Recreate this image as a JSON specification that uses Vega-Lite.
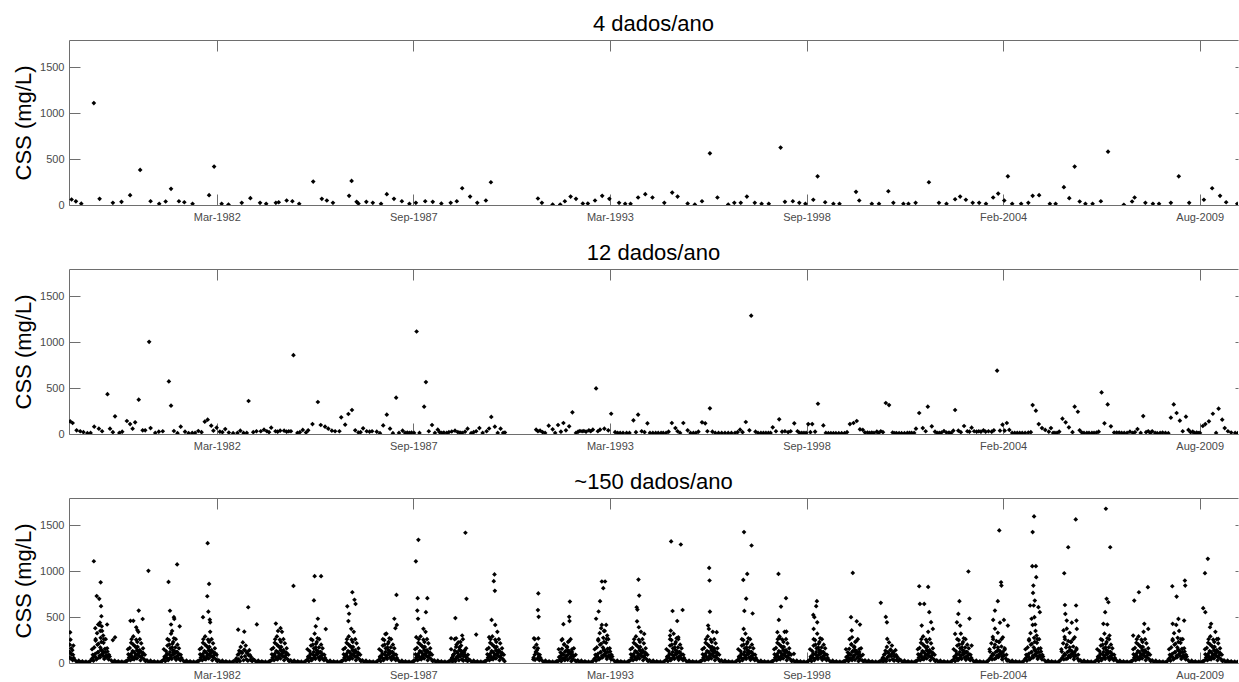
{
"$schema":"https://vega.github.io/schema/vega-lite/v6.json",
"padding":{"left":12,"top":12,"right":0,"bottom":0},
"spacing":19,
"config":{"font":"Liberation Sans","view":{"stroke":null},
"title":{"fontSize":22,"fontWeight":"normal","color":"#000","offset":4,"anchor":"middle","font":"Liberation Sans"},
"axis":{"grid":false,"domainColor":"#6e6e6e","tickColor":"#6e6e6e","labelColor":"#4a4a4a","labelFontSize":11,"labelFont":"Liberation Sans","titleFont":"Liberation Sans","titleFontSize":22,"titleFontWeight":"normal","titleColor":"#000","domainWidth":1,"tickWidth":1}},
"datasets":{
"q":[{"t":1978.2,"v":60},{"t":1978.32,"v":40},{"t":1978.47,"v":15},{"t":1978.82,"v":1112},{"t":1978.98,"v":67},{"t":1979.35,"v":24},{"t":1979.59,"v":35},{"t":1979.83,"v":107},{"t":1980.11,"v":383},{"t":1980.4,"v":41},{"t":1980.64,"v":13},{"t":1980.82,"v":38},{"t":1980.97,"v":176},{"t":1981.19,"v":41},{"t":1981.34,"v":30},{"t":1981.57,"v":13},{"t":1982.03,"v":107},{"t":1982.17,"v":419},{"t":1982.38,"v":13},{"t":1982.57,"v":5},{"t":1982.94,"v":24},{"t":1983.18,"v":74},{"t":1983.45,"v":24},{"t":1983.62,"v":13},{"t":1983.89,"v":24},{"t":1983.97,"v":30},{"t":1984.19,"v":49},{"t":1984.35,"v":41},{"t":1984.54,"v":13},{"t":1984.93,"v":256},{"t":1985.17,"v":67},{"t":1985.31,"v":49},{"t":1985.48,"v":24},{"t":1985.93,"v":100},{"t":1986,"v":263},{"t":1986.14,"v":35},{"t":1986.19,"v":16},{"t":1986.41,"v":35},{"t":1986.59,"v":24},{"t":1986.82,"v":13},{"t":1986.98,"v":118},{"t":1987.18,"v":67},{"t":1987.4,"v":41},{"t":1987.61,"v":13},{"t":1987.79,"v":24},{"t":1988.05,"v":41},{"t":1988.26,"v":35},{"t":1988.5,"v":16},{"t":1988.76,"v":24},{"t":1988.93,"v":41},{"t":1989.08,"v":183},{"t":1989.3,"v":92},{"t":1989.5,"v":24},{"t":1989.74,"v":49},{"t":1989.88,"v":248},{"t":1991.19,"v":71},{"t":1991.3,"v":24},{"t":1991.6,"v":5},{"t":1991.81,"v":5},{"t":1991.94,"v":41},{"t":1992.1,"v":92},{"t":1992.25,"v":67},{"t":1992.44,"v":16},{"t":1992.58,"v":16},{"t":1992.78,"v":49},{"t":1992.98,"v":100},{"t":1993.18,"v":67},{"t":1993.45,"v":24},{"t":1993.62,"v":13},{"t":1993.77,"v":13},{"t":1993.98,"v":82},{"t":1994.18,"v":118},{"t":1994.38,"v":82},{"t":1994.71,"v":24},{"t":1994.93,"v":136},{"t":1995.08,"v":92},{"t":1995.36,"v":16},{"t":1995.56,"v":5},{"t":1995.76,"v":41},{"t":1995.98,"v":564},{"t":1996.19,"v":82},{"t":1996.49,"v":5},{"t":1996.66,"v":24},{"t":1996.84,"v":24},{"t":1997.01,"v":92},{"t":1997.23,"v":24},{"t":1997.42,"v":13},{"t":1997.62,"v":13},{"t":1997.95,"v":626},{"t":1998.07,"v":35},{"t":1998.29,"v":41},{"t":1998.47,"v":24},{"t":1998.64,"v":13},{"t":1998.86,"v":57},{"t":1998.98,"v":313},{"t":1999.19,"v":30},{"t":1999.42,"v":13},{"t":1999.59,"v":13},{"t":2000.05,"v":144},{"t":2000.14,"v":49},{"t":2000.49,"v":13},{"t":2000.69,"v":13},{"t":2000.95,"v":150},{"t":2001.09,"v":24},{"t":2001.37,"v":13},{"t":2001.51,"v":13},{"t":2001.71,"v":24},{"t":2002.08,"v":248},{"t":2002.36,"v":24},{"t":2002.57,"v":13},{"t":2002.81,"v":63},{"t":2002.95,"v":92},{"t":2003.11,"v":57},{"t":2003.3,"v":24},{"t":2003.48,"v":24},{"t":2003.67,"v":13},{"t":2003.87,"v":82},{"t":2004.01,"v":125},{"t":2004.18,"v":49},{"t":2004.28,"v":313},{"t":2004.4,"v":13},{"t":2004.65,"v":13},{"t":2004.85,"v":24},{"t":2004.97,"v":100},{"t":2005.15,"v":107},{"t":2005.45,"v":13},{"t":2005.61,"v":13},{"t":2005.84,"v":194},{"t":2005.99,"v":74},{"t":2006.14,"v":419},{"t":2006.28,"v":38},{"t":2006.44,"v":13},{"t":2006.64,"v":13},{"t":2006.87,"v":41},{"t":2007.07,"v":582},{"t":2007.51,"v":2},{"t":2007.74,"v":38},{"t":2007.81,"v":82},{"t":2008.11,"v":24},{"t":2008.32,"v":13},{"t":2008.49,"v":13},{"t":2008.82,"v":24},{"t":2009.04,"v":313},{"t":2009.33,"v":24},{"t":2009.74,"v":57},{"t":2009.97,"v":183},{"t":2010.19,"v":100},{"t":2010.36,"v":30},{"t":2010.67,"v":13}],
"m":[{"t":1978.16,"v":138},{"t":1978.23,"v":120},{"t":1978.34,"v":40},{"t":1978.44,"v":30},{"t":1978.53,"v":20},{"t":1978.64,"v":9},{"t":1978.73,"v":12},{"t":1978.83,"v":80},{"t":1978.96,"v":58},{"t":1979.05,"v":30},{"t":1979.2,"v":435},{"t":1979.27,"v":58},{"t":1979.35,"v":20},{"t":1979.41,"v":193},{"t":1979.53,"v":12},{"t":1979.61,"v":25},{"t":1979.74,"v":142},{"t":1979.83,"v":108},{"t":1979.9,"v":58},{"t":1979.97,"v":127},{"t":1980.07,"v":374},{"t":1980.18,"v":40},{"t":1980.25,"v":40},{"t":1980.36,"v":1006},{"t":1980.4,"v":65},{"t":1980.53,"v":12},{"t":1980.63,"v":25},{"t":1980.74,"v":30},{"t":1980.91,"v":574},{"t":1980.97,"v":309},{"t":1981.05,"v":33},{"t":1981.15,"v":9},{"t":1981.24,"v":80},{"t":1981.36,"v":25},{"t":1981.46,"v":9},{"t":1981.56,"v":12},{"t":1981.64,"v":12},{"t":1981.73,"v":33},{"t":1981.82,"v":20},{"t":1981.91,"v":135},{"t":1981.99,"v":156},{"t":1982.09,"v":91},{"t":1982.15,"v":36},{"t":1982.24,"v":69},{"t":1982.33,"v":25},{"t":1982.4,"v":20},{"t":1982.48,"v":54},{"t":1982.58,"v":16},{"t":1982.7,"v":9},{"t":1982.82,"v":12},{"t":1982.9,"v":36},{"t":1982.99,"v":12},{"t":1983.08,"v":12},{"t":1983.13,"v":360},{"t":1983.26,"v":20},{"t":1983.35,"v":30},{"t":1983.47,"v":30},{"t":1983.56,"v":47},{"t":1983.64,"v":30},{"t":1983.7,"v":20},{"t":1983.76,"v":69},{"t":1983.88,"v":30},{"t":1983.94,"v":25},{"t":1984.01,"v":36},{"t":1984.12,"v":36},{"t":1984.19,"v":25},{"t":1984.25,"v":30},{"t":1984.31,"v":30},{"t":1984.38,"v":860},{"t":1984.49,"v":12},{"t":1984.56,"v":20},{"t":1984.64,"v":44},{"t":1984.73,"v":16},{"t":1984.79,"v":40},{"t":1984.91,"v":108},{"t":1985.06,"v":349},{"t":1985.14,"v":98},{"t":1985.26,"v":80},{"t":1985.35,"v":58},{"t":1985.45,"v":36},{"t":1985.54,"v":30},{"t":1985.66,"v":30},{"t":1985.71,"v":182},{"t":1985.82,"v":102},{"t":1985.91,"v":218},{"t":1986.01,"v":262},{"t":1986.1,"v":40},{"t":1986.19,"v":16},{"t":1986.25,"v":20},{"t":1986.32,"v":62},{"t":1986.42,"v":30},{"t":1986.5,"v":25},{"t":1986.57,"v":30},{"t":1986.7,"v":25},{"t":1986.79,"v":9},{"t":1986.88,"v":94},{"t":1986.98,"v":211},{"t":1987.07,"v":58},{"t":1987.15,"v":9},{"t":1987.24,"v":396},{"t":1987.32,"v":12},{"t":1987.42,"v":36},{"t":1987.49,"v":12},{"t":1987.55,"v":16},{"t":1987.61,"v":12},{"t":1987.67,"v":16},{"t":1987.74,"v":12},{"t":1987.81,"v":1118},{"t":1987.89,"v":12},{"t":1988.02,"v":298},{"t":1988.07,"v":566},{"t":1988.15,"v":30},{"t":1988.24,"v":98},{"t":1988.32,"v":12},{"t":1988.4,"v":47},{"t":1988.45,"v":20},{"t":1988.51,"v":12},{"t":1988.57,"v":16},{"t":1988.65,"v":12},{"t":1988.71,"v":20},{"t":1988.79,"v":27},{"t":1988.88,"v":36},{"t":1988.96,"v":20},{"t":1989.02,"v":16},{"t":1989.08,"v":12},{"t":1989.16,"v":25},{"t":1989.23,"v":58},{"t":1989.33,"v":9},{"t":1989.4,"v":20},{"t":1989.47,"v":30},{"t":1989.56,"v":65},{"t":1989.65,"v":12},{"t":1989.76,"v":30},{"t":1989.83,"v":60},{"t":1989.89,"v":186},{"t":1989.99,"v":80},{"t":1990.07,"v":12},{"t":1990.15,"v":58},{"t":1990.22,"v":12},{"t":1990.27,"v":16},{"t":1991.14,"v":47},{"t":1991.19,"v":30},{"t":1991.25,"v":36},{"t":1991.32,"v":20},{"t":1991.39,"v":12},{"t":1991.49,"v":91},{"t":1991.6,"v":51},{"t":1991.67,"v":12},{"t":1991.75,"v":98},{"t":1991.83,"v":25},{"t":1991.9,"v":120},{"t":1991.97,"v":40},{"t":1992.06,"v":84},{"t":1992.15,"v":236},{"t":1992.25,"v":12},{"t":1992.31,"v":25},{"t":1992.36,"v":33},{"t":1992.42,"v":30},{"t":1992.47,"v":33},{"t":1992.53,"v":25},{"t":1992.61,"v":40},{"t":1992.66,"v":30},{"t":1992.72,"v":47},{"t":1992.81,"v":497},{"t":1992.86,"v":30},{"t":1992.92,"v":47},{"t":1993.04,"v":58},{"t":1993.15,"v":40},{"t":1993.23,"v":221},{"t":1993.34,"v":20},{"t":1993.41,"v":12},{"t":1993.48,"v":12},{"t":1993.56,"v":12},{"t":1993.66,"v":12},{"t":1993.74,"v":12},{"t":1993.85,"v":149},{"t":1993.92,"v":20},{"t":1993.98,"v":211},{"t":1994.08,"v":30},{"t":1994.16,"v":20},{"t":1994.24,"v":116},{"t":1994.31,"v":12},{"t":1994.39,"v":12},{"t":1994.47,"v":12},{"t":1994.54,"v":12},{"t":1994.62,"v":12},{"t":1994.68,"v":12},{"t":1994.76,"v":12},{"t":1994.83,"v":25},{"t":1994.92,"v":120},{"t":1995.02,"v":65},{"t":1995.08,"v":30},{"t":1995.15,"v":12},{"t":1995.24,"v":120},{"t":1995.36,"v":40},{"t":1995.44,"v":12},{"t":1995.52,"v":12},{"t":1995.59,"v":12},{"t":1995.66,"v":25},{"t":1995.76,"v":127},{"t":1995.85,"v":116},{"t":1995.91,"v":30},{"t":1995.98,"v":280},{"t":1996.05,"v":25},{"t":1996.13,"v":12},{"t":1996.22,"v":12},{"t":1996.31,"v":12},{"t":1996.4,"v":12},{"t":1996.49,"v":12},{"t":1996.58,"v":12},{"t":1996.68,"v":12},{"t":1996.75,"v":20},{"t":1996.82,"v":47},{"t":1996.89,"v":20},{"t":1996.98,"v":131},{"t":1997.08,"v":40},{"t":1997.13,"v":1291},{"t":1997.25,"v":25},{"t":1997.32,"v":12},{"t":1997.4,"v":12},{"t":1997.47,"v":12},{"t":1997.54,"v":12},{"t":1997.61,"v":12},{"t":1997.67,"v":12},{"t":1997.73,"v":73},{"t":1997.82,"v":30},{"t":1997.91,"v":160},{"t":1997.99,"v":25},{"t":1998.07,"v":30},{"t":1998.16,"v":20},{"t":1998.23,"v":30},{"t":1998.33,"v":116},{"t":1998.42,"v":30},{"t":1998.48,"v":12},{"t":1998.54,"v":12},{"t":1998.6,"v":12},{"t":1998.66,"v":12},{"t":1998.72,"v":108},{"t":1998.78,"v":20},{"t":1998.83,"v":108},{"t":1998.91,"v":25},{"t":1998.99,"v":330},{"t":1999.14,"v":94},{"t":1999.21,"v":12},{"t":1999.28,"v":9},{"t":1999.35,"v":9},{"t":1999.42,"v":9},{"t":1999.49,"v":9},{"t":1999.57,"v":9},{"t":1999.65,"v":9},{"t":1999.73,"v":9},{"t":1999.8,"v":20},{"t":1999.88,"v":108},{"t":1999.98,"v":120},{"t":2000.07,"v":142},{"t":2000.16,"v":51},{"t":2000.24,"v":44},{"t":2000.3,"v":16},{"t":2000.37,"v":16},{"t":2000.43,"v":12},{"t":2000.49,"v":16},{"t":2000.55,"v":12},{"t":2000.63,"v":25},{"t":2000.68,"v":12},{"t":2000.74,"v":30},{"t":2000.8,"v":20},{"t":2000.88,"v":338},{"t":2000.97,"v":316},{"t":2001.07,"v":16},{"t":2001.13,"v":9},{"t":2001.18,"v":9},{"t":2001.25,"v":9},{"t":2001.32,"v":9},{"t":2001.4,"v":9},{"t":2001.48,"v":12},{"t":2001.54,"v":12},{"t":2001.6,"v":12},{"t":2001.67,"v":12},{"t":2001.72,"v":58},{"t":2001.81,"v":229},{"t":2001.91,"v":65},{"t":2001.99,"v":30},{"t":2002.05,"v":298},{"t":2002.16,"v":84},{"t":2002.25,"v":25},{"t":2002.31,"v":12},{"t":2002.37,"v":12},{"t":2002.43,"v":16},{"t":2002.5,"v":33},{"t":2002.57,"v":16},{"t":2002.64,"v":16},{"t":2002.7,"v":12},{"t":2002.76,"v":36},{"t":2002.81,"v":262},{"t":2002.9,"v":36},{"t":2002.97,"v":20},{"t":2003.06,"v":87},{"t":2003.15,"v":30},{"t":2003.21,"v":25},{"t":2003.27,"v":69},{"t":2003.34,"v":30},{"t":2003.41,"v":25},{"t":2003.47,"v":30},{"t":2003.53,"v":25},{"t":2003.6,"v":40},{"t":2003.66,"v":25},{"t":2003.74,"v":30},{"t":2003.83,"v":25},{"t":2003.89,"v":40},{"t":2003.98,"v":691},{"t":2004.06,"v":36},{"t":2004.13,"v":102},{"t":2004.19,"v":36},{"t":2004.25,"v":120},{"t":2004.32,"v":44},{"t":2004.4,"v":12},{"t":2004.47,"v":12},{"t":2004.54,"v":12},{"t":2004.61,"v":12},{"t":2004.68,"v":12},{"t":2004.76,"v":12},{"t":2004.85,"v":16},{"t":2004.92,"v":20},{"t":2004.97,"v":316},{"t":2005.06,"v":254},{"t":2005.14,"v":108},{"t":2005.23,"v":65},{"t":2005.32,"v":44},{"t":2005.42,"v":25},{"t":2005.48,"v":65},{"t":2005.54,"v":12},{"t":2005.59,"v":12},{"t":2005.65,"v":12},{"t":2005.71,"v":25},{"t":2005.8,"v":167},{"t":2005.89,"v":127},{"t":2005.98,"v":73},{"t":2006.08,"v":20},{"t":2006.14,"v":298},{"t":2006.23,"v":243},{"t":2006.28,"v":40},{"t":2006.34,"v":16},{"t":2006.4,"v":12},{"t":2006.48,"v":12},{"t":2006.54,"v":12},{"t":2006.62,"v":12},{"t":2006.68,"v":12},{"t":2006.75,"v":16},{"t":2006.81,"v":25},{"t":2006.89,"v":454},{"t":2006.97,"v":116},{"t":2007.06,"v":323},{"t":2007.15,"v":84},{"t":2007.24,"v":16},{"t":2007.31,"v":16},{"t":2007.38,"v":16},{"t":2007.45,"v":12},{"t":2007.52,"v":12},{"t":2007.6,"v":12},{"t":2007.68,"v":25},{"t":2007.76,"v":12},{"t":2007.82,"v":20},{"t":2007.89,"v":54},{"t":2007.98,"v":12},{"t":2008.05,"v":196},{"t":2008.13,"v":20},{"t":2008.19,"v":30},{"t":2008.25,"v":12},{"t":2008.3,"v":30},{"t":2008.38,"v":12},{"t":2008.44,"v":9},{"t":2008.52,"v":12},{"t":2008.59,"v":16},{"t":2008.67,"v":12},{"t":2008.75,"v":9},{"t":2008.82,"v":178},{"t":2008.9,"v":323},{"t":2008.98,"v":229},{"t":2009.07,"v":145},{"t":2009.15,"v":30},{"t":2009.24,"v":189},{"t":2009.31,"v":44},{"t":2009.37,"v":20},{"t":2009.43,"v":25},{"t":2009.48,"v":12},{"t":2009.54,"v":16},{"t":2009.59,"v":9},{"t":2009.63,"v":12},{"t":2009.71,"v":87},{"t":2009.78,"v":108},{"t":2009.88,"v":138},{"t":2009.99,"v":221},{"t":2010.08,"v":12},{"t":2010.15,"v":276},{"t":2010.25,"v":156},{"t":2010.32,"v":65},{"t":2010.41,"v":30},{"t":2010.5,"v":16},{"t":2010.61,"v":12},{"t":2010.68,"v":9}],
"d":[{"t":1978.13,"v":120},{"t":1978.14,"v":60},{"t":1978.15,"v":200},{"t":1978.16,"v":335},{"t":1978.17,"v":255},{"t":1978.18,"v":50},{"t":1978.19,"v":100},{"t":1978.2,"v":95},{"t":1978.22,"v":140},{"t":1978.23,"v":30},{"t":1978.25,"v":190},{"t":1978.26,"v":55},
{"t":1978.3,"v":30},{"t":1978.35,"v":10},{"t":1978.4,"v":25},{"t":1978.45,"v":8},{"t":1978.5,"v":18},{"t":1978.55,"v":6},{"t":1978.6,"v":15},{"t":1978.65,"v":5},{"t":1978.69,"v":12},{"t":1978.72,"v":22},
{"t":1978.76,"v":45},{"t":1978.79,"v":90},{"t":1978.81,"v":25},{"t":1978.83,"v":170},{"t":1978.85,"v":70},{"t":1978.87,"v":245},{"t":1978.89,"v":40},{"t":1978.91,"v":325},{"t":1978.93,"v":115},{"t":1978.95,"v":210},{"t":1978.97,"v":415},{"t":1978.99,"v":60},{"t":1979.01,"v":275},{"t":1979.03,"v":145},{"t":1979.05,"v":350},{"t":1979.07,"v":80},{"t":1979.09,"v":220},{"t":1979.11,"v":45},{"t":1979.13,"v":155},{"t":1979.15,"v":260},{"t":1979.18,"v":65},{"t":1979.2,"v":125},{"t":1979.23,"v":40},{"t":1979.26,"v":70},
{"t":1978.8,"v":60},{"t":1978.86,"v":100},{"t":1978.9,"v":45},{"t":1978.94,"v":120},{"t":1978.98,"v":80},{"t":1979.02,"v":140},{"t":1979.04,"v":95},{"t":1979.08,"v":110},{"t":1979.12,"v":70},{"t":1979.17,"v":85},
{"t":1978.82,"v":1110},{"t":1978.9,"v":730},{"t":1978.97,"v":700},{"t":1979.01,"v":880},{"t":1979.02,"v":620},{"t":1979.03,"v":510},{"t":1978.99,"v":440},{"t":1979.19,"v":420},{"t":1979.35,"v":250},{"t":1979.41,"v":280},{"t":1978.86,"v":380},{"t":1978.94,"v":420},{"t":1979,"v":350},{"t":1979.04,"v":400},{"t":1979.08,"v":300},
{"t":1979.3,"v":30},{"t":1979.35,"v":10},{"t":1979.4,"v":25},{"t":1979.45,"v":8},{"t":1979.5,"v":18},{"t":1979.55,"v":6},{"t":1979.6,"v":15},{"t":1979.65,"v":5},{"t":1979.69,"v":12},{"t":1979.72,"v":22},
{"t":1979.75,"v":25},{"t":1979.78,"v":95},{"t":1979.8,"v":40},{"t":1979.82,"v":165},{"t":1979.84,"v":30},{"t":1979.86,"v":220},{"t":1979.88,"v":70},{"t":1979.9,"v":130},{"t":1979.92,"v":290},{"t":1979.94,"v":40},{"t":1979.96,"v":185},{"t":1979.98,"v":100},{"t":1980,"v":255},{"t":1980.02,"v":50},{"t":1980.04,"v":175},{"t":1980.06,"v":340},{"t":1980.08,"v":75},{"t":1980.1,"v":140},{"t":1980.12,"v":30},{"t":1980.14,"v":215},{"t":1980.16,"v":60},{"t":1980.19,"v":110},{"t":1980.22,"v":40},{"t":1980.26,"v":20},
{"t":1979.8,"v":60},{"t":1979.86,"v":100},{"t":1979.9,"v":45},{"t":1979.94,"v":120},{"t":1979.98,"v":80},{"t":1980.02,"v":140},{"t":1980.04,"v":95},{"t":1980.08,"v":110},{"t":1980.12,"v":70},{"t":1980.17,"v":85},
{"t":1979.84,"v":460},{"t":1979.92,"v":460},{"t":1980.07,"v":572},{"t":1980.18,"v":480},{"t":1980.34,"v":1006},{"t":1980,"v":390},{"t":1980.03,"v":360},
{"t":1980.3,"v":30},{"t":1980.35,"v":10},{"t":1980.4,"v":25},{"t":1980.45,"v":8},{"t":1980.5,"v":18},{"t":1980.55,"v":6},{"t":1980.6,"v":15},{"t":1980.65,"v":5},{"t":1980.69,"v":12},{"t":1980.72,"v":22},
{"t":1980.76,"v":35},{"t":1980.79,"v":70},{"t":1980.81,"v":20},{"t":1980.83,"v":130},{"t":1980.85,"v":55},{"t":1980.87,"v":190},{"t":1980.89,"v":30},{"t":1980.91,"v":250},{"t":1980.93,"v":90},{"t":1980.95,"v":160},{"t":1980.97,"v":320},{"t":1980.99,"v":45},{"t":1981.01,"v":210},{"t":1981.03,"v":110},{"t":1981.05,"v":270},{"t":1981.07,"v":60},{"t":1981.09,"v":170},{"t":1981.11,"v":35},{"t":1981.13,"v":120},{"t":1981.15,"v":200},{"t":1981.18,"v":50},{"t":1981.2,"v":95},{"t":1981.23,"v":30},{"t":1981.26,"v":55},
{"t":1980.8,"v":60},{"t":1980.86,"v":100},{"t":1980.9,"v":45},{"t":1980.94,"v":120},{"t":1980.98,"v":80},{"t":1981.02,"v":140},{"t":1981.04,"v":95},{"t":1981.08,"v":110},{"t":1981.12,"v":70},{"t":1981.17,"v":85},
{"t":1980.9,"v":885},{"t":1980.94,"v":570},{"t":1981.05,"v":500},{"t":1981.06,"v":480},{"t":1981.14,"v":1075},{"t":1981.21,"v":400},{"t":1980.97,"v":420},{"t":1981,"v":350},
{"t":1981.3,"v":30},{"t":1981.35,"v":10},{"t":1981.4,"v":25},{"t":1981.45,"v":8},{"t":1981.5,"v":18},{"t":1981.55,"v":6},{"t":1981.6,"v":15},{"t":1981.65,"v":5},{"t":1981.69,"v":12},{"t":1981.72,"v":22},
{"t":1981.75,"v":25},{"t":1981.78,"v":95},{"t":1981.8,"v":40},{"t":1981.82,"v":165},{"t":1981.84,"v":30},{"t":1981.86,"v":220},{"t":1981.88,"v":70},{"t":1981.9,"v":130},{"t":1981.92,"v":290},{"t":1981.94,"v":40},{"t":1981.96,"v":185},{"t":1981.98,"v":100},{"t":1982,"v":255},{"t":1982.02,"v":50},{"t":1982.04,"v":175},{"t":1982.06,"v":340},{"t":1982.08,"v":75},{"t":1982.1,"v":140},{"t":1982.12,"v":30},{"t":1982.14,"v":215},{"t":1982.16,"v":60},{"t":1982.19,"v":110},{"t":1982.22,"v":40},{"t":1982.26,"v":20},
{"t":1981.8,"v":60},{"t":1981.86,"v":100},{"t":1981.9,"v":45},{"t":1981.94,"v":120},{"t":1981.98,"v":80},{"t":1982.02,"v":140},{"t":1982.04,"v":95},{"t":1982.08,"v":110},{"t":1982.12,"v":70},{"t":1982.17,"v":85},
{"t":1981.86,"v":500},{"t":1981.99,"v":1307},{"t":1981.98,"v":728},{"t":1982.03,"v":863},{"t":1982.05,"v":473},{"t":1982.06,"v":444},{"t":1982.04,"v":244},{"t":1982.01,"v":560},
{"t":1982.3,"v":30},{"t":1982.35,"v":10},{"t":1982.4,"v":25},{"t":1982.45,"v":8},{"t":1982.5,"v":18},{"t":1982.55,"v":6},{"t":1982.6,"v":15},{"t":1982.65,"v":5},{"t":1982.69,"v":12},{"t":1982.72,"v":22},
{"t":1982.76,"v":25},{"t":1982.79,"v":50},{"t":1982.81,"v":15},{"t":1982.83,"v":90},{"t":1982.85,"v":40},{"t":1982.87,"v":135},{"t":1982.89,"v":20},{"t":1982.91,"v":175},{"t":1982.93,"v":65},{"t":1982.95,"v":110},{"t":1982.97,"v":225},{"t":1982.99,"v":30},{"t":1983.01,"v":145},{"t":1983.03,"v":75},{"t":1983.05,"v":190},{"t":1983.07,"v":40},{"t":1983.09,"v":120},{"t":1983.11,"v":25},{"t":1983.13,"v":85},{"t":1983.15,"v":140},{"t":1983.18,"v":35},{"t":1983.2,"v":65},{"t":1983.23,"v":20},{"t":1983.26,"v":40},
{"t":1982.86,"v":100},{"t":1982.94,"v":120},{"t":1983.02,"v":140},{"t":1983.08,"v":110},{"t":1983.17,"v":85},
{"t":1982.84,"v":364},{"t":1983.01,"v":342},{"t":1983.12,"v":608},{"t":1983.36,"v":421},
{"t":1983.3,"v":30},{"t":1983.35,"v":10},{"t":1983.4,"v":25},{"t":1983.45,"v":8},{"t":1983.5,"v":18},{"t":1983.55,"v":6},{"t":1983.6,"v":15},{"t":1983.65,"v":5},{"t":1983.69,"v":12},{"t":1983.72,"v":22},
{"t":1983.75,"v":25},{"t":1983.78,"v":95},{"t":1983.8,"v":40},{"t":1983.82,"v":165},{"t":1983.84,"v":30},{"t":1983.86,"v":220},{"t":1983.88,"v":70},{"t":1983.9,"v":130},{"t":1983.92,"v":290},{"t":1983.94,"v":40},{"t":1983.96,"v":185},{"t":1983.98,"v":100},{"t":1984,"v":255},{"t":1984.02,"v":50},{"t":1984.04,"v":175},{"t":1984.06,"v":340},{"t":1984.08,"v":75},{"t":1984.1,"v":140},{"t":1984.12,"v":30},{"t":1984.14,"v":215},{"t":1984.16,"v":60},{"t":1984.19,"v":110},{"t":1984.22,"v":40},{"t":1984.26,"v":20},
{"t":1983.8,"v":60},{"t":1983.86,"v":100},{"t":1983.9,"v":45},{"t":1983.94,"v":120},{"t":1983.98,"v":80},{"t":1984.02,"v":140},{"t":1984.04,"v":95},{"t":1984.08,"v":110},{"t":1984.12,"v":70},{"t":1984.17,"v":85},
{"t":1983.89,"v":430},{"t":1984.38,"v":841},{"t":1983.95,"v":350},{"t":1984.02,"v":380},
{"t":1984.3,"v":30},{"t":1984.35,"v":10},{"t":1984.4,"v":25},{"t":1984.45,"v":8},{"t":1984.5,"v":18},{"t":1984.55,"v":6},{"t":1984.6,"v":15},{"t":1984.65,"v":5},{"t":1984.69,"v":12},{"t":1984.72,"v":22},
{"t":1984.76,"v":35},{"t":1984.79,"v":70},{"t":1984.81,"v":20},{"t":1984.83,"v":130},{"t":1984.85,"v":55},{"t":1984.87,"v":190},{"t":1984.89,"v":30},{"t":1984.91,"v":250},{"t":1984.93,"v":90},{"t":1984.95,"v":160},{"t":1984.97,"v":320},{"t":1984.99,"v":45},{"t":1985.01,"v":210},{"t":1985.03,"v":110},{"t":1985.05,"v":270},{"t":1985.07,"v":60},{"t":1985.09,"v":170},{"t":1985.11,"v":35},{"t":1985.13,"v":120},{"t":1985.15,"v":200},{"t":1985.18,"v":50},{"t":1985.2,"v":95},{"t":1985.23,"v":30},{"t":1985.26,"v":55},
{"t":1984.8,"v":60},{"t":1984.86,"v":100},{"t":1984.9,"v":45},{"t":1984.94,"v":120},{"t":1984.98,"v":80},{"t":1985.02,"v":140},{"t":1985.04,"v":95},{"t":1985.08,"v":110},{"t":1985.12,"v":70},{"t":1985.17,"v":85},
{"t":1984.95,"v":683},{"t":1984.97,"v":947},{"t":1985.06,"v":483},{"t":1985.15,"v":947},{"t":1985.28,"v":370},{"t":1985,"v":400},
{"t":1985.3,"v":30},{"t":1985.35,"v":10},{"t":1985.4,"v":25},{"t":1985.45,"v":8},{"t":1985.5,"v":18},{"t":1985.55,"v":6},{"t":1985.6,"v":15},{"t":1985.65,"v":5},{"t":1985.69,"v":12},{"t":1985.72,"v":22},
{"t":1985.75,"v":25},{"t":1985.78,"v":95},{"t":1985.8,"v":40},{"t":1985.82,"v":165},{"t":1985.84,"v":30},{"t":1985.86,"v":220},{"t":1985.88,"v":70},{"t":1985.9,"v":130},{"t":1985.92,"v":290},{"t":1985.94,"v":40},{"t":1985.96,"v":185},{"t":1985.98,"v":100},{"t":1986,"v":255},{"t":1986.02,"v":50},{"t":1986.04,"v":175},{"t":1986.06,"v":340},{"t":1986.08,"v":75},{"t":1986.1,"v":140},{"t":1986.12,"v":30},{"t":1986.14,"v":215},{"t":1986.16,"v":60},{"t":1986.19,"v":110},{"t":1986.22,"v":40},{"t":1986.26,"v":20},
{"t":1985.8,"v":60},{"t":1985.86,"v":100},{"t":1985.9,"v":45},{"t":1985.94,"v":120},{"t":1985.98,"v":80},{"t":1986.02,"v":140},{"t":1986.04,"v":95},{"t":1986.08,"v":110},{"t":1986.12,"v":70},{"t":1986.17,"v":85},
{"t":1985.88,"v":618},{"t":1985.91,"v":457},{"t":1985.93,"v":537},{"t":1985.99,"v":373},{"t":1986.02,"v":772},{"t":1986.08,"v":690},{"t":1986.11,"v":645},
{"t":1986.3,"v":30},{"t":1986.35,"v":10},{"t":1986.4,"v":25},{"t":1986.45,"v":8},{"t":1986.5,"v":18},{"t":1986.55,"v":6},{"t":1986.6,"v":15},{"t":1986.65,"v":5},{"t":1986.69,"v":12},{"t":1986.72,"v":22},
{"t":1986.76,"v":35},{"t":1986.79,"v":70},{"t":1986.81,"v":20},{"t":1986.83,"v":130},{"t":1986.85,"v":55},{"t":1986.87,"v":190},{"t":1986.89,"v":30},{"t":1986.91,"v":250},{"t":1986.93,"v":90},{"t":1986.95,"v":160},{"t":1986.97,"v":320},{"t":1986.99,"v":45},{"t":1987.01,"v":210},{"t":1987.03,"v":110},{"t":1987.05,"v":270},{"t":1987.07,"v":60},{"t":1987.09,"v":170},{"t":1987.11,"v":35},{"t":1987.13,"v":120},{"t":1987.15,"v":200},{"t":1987.18,"v":50},{"t":1987.2,"v":95},{"t":1987.23,"v":30},{"t":1987.26,"v":55},
{"t":1986.8,"v":60},{"t":1986.86,"v":100},{"t":1986.9,"v":45},{"t":1986.94,"v":120},{"t":1986.98,"v":80},{"t":1987.02,"v":140},{"t":1987.04,"v":95},{"t":1987.08,"v":110},{"t":1987.12,"v":70},{"t":1987.17,"v":85},
{"t":1986.94,"v":316},{"t":1987.19,"v":483},{"t":1987.25,"v":743},{"t":1987.26,"v":415},{"t":1987.22,"v":380},
{"t":1987.3,"v":30},{"t":1987.35,"v":10},{"t":1987.4,"v":25},{"t":1987.45,"v":8},{"t":1987.5,"v":18},{"t":1987.55,"v":6},{"t":1987.6,"v":15},{"t":1987.65,"v":5},{"t":1987.69,"v":12},{"t":1987.72,"v":22},
{"t":1987.75,"v":25},{"t":1987.78,"v":95},{"t":1987.8,"v":40},{"t":1987.82,"v":165},{"t":1987.84,"v":30},{"t":1987.86,"v":220},{"t":1987.88,"v":70},{"t":1987.9,"v":130},{"t":1987.92,"v":290},{"t":1987.94,"v":40},{"t":1987.96,"v":185},{"t":1987.98,"v":100},{"t":1988,"v":255},{"t":1988.02,"v":50},{"t":1988.04,"v":175},{"t":1988.06,"v":340},{"t":1988.08,"v":75},{"t":1988.1,"v":140},{"t":1988.12,"v":30},{"t":1988.14,"v":215},{"t":1988.16,"v":60},{"t":1988.19,"v":110},{"t":1988.22,"v":40},{"t":1988.26,"v":20},
{"t":1987.8,"v":60},{"t":1987.86,"v":100},{"t":1987.9,"v":45},{"t":1987.94,"v":120},{"t":1987.98,"v":80},{"t":1988.02,"v":140},{"t":1988.04,"v":95},{"t":1988.08,"v":110},{"t":1988.12,"v":70},{"t":1988.17,"v":85},
{"t":1987.79,"v":1109},{"t":1987.8,"v":282},{"t":1987.83,"v":572},{"t":1987.84,"v":707},{"t":1987.85,"v":483},{"t":1987.86,"v":1344},{"t":1988,"v":373},{"t":1988.07,"v":555},{"t":1988.11,"v":707},
{"t":1988.3,"v":30},{"t":1988.35,"v":10},{"t":1988.4,"v":25},{"t":1988.45,"v":8},{"t":1988.5,"v":18},{"t":1988.55,"v":6},{"t":1988.6,"v":15},{"t":1988.65,"v":5},{"t":1988.69,"v":12},{"t":1988.72,"v":22},
{"t":1988.76,"v":25},{"t":1988.79,"v":50},{"t":1988.81,"v":15},{"t":1988.83,"v":90},{"t":1988.85,"v":40},{"t":1988.87,"v":135},{"t":1988.89,"v":20},{"t":1988.91,"v":175},{"t":1988.93,"v":65},{"t":1988.95,"v":110},{"t":1988.97,"v":225},{"t":1988.99,"v":30},{"t":1989.01,"v":145},{"t":1989.03,"v":75},{"t":1989.05,"v":190},{"t":1989.07,"v":40},{"t":1989.09,"v":120},{"t":1989.11,"v":25},{"t":1989.13,"v":85},{"t":1989.15,"v":140},{"t":1989.18,"v":35},{"t":1989.2,"v":65},{"t":1989.23,"v":20},{"t":1989.26,"v":40},
{"t":1988.8,"v":60},{"t":1988.86,"v":100},{"t":1988.9,"v":45},{"t":1988.94,"v":120},{"t":1988.98,"v":80},{"t":1989.02,"v":140},{"t":1989.04,"v":95},{"t":1989.08,"v":110},{"t":1989.12,"v":70},{"t":1989.17,"v":85},
{"t":1988.77,"v":270},{"t":1988.89,"v":490},{"t":1988.91,"v":270},{"t":1989.08,"v":300},{"t":1989.17,"v":1421},{"t":1989.2,"v":700},{"t":1989.47,"v":310},
{"t":1989.3,"v":30},{"t":1989.35,"v":10},{"t":1989.4,"v":25},{"t":1989.45,"v":8},{"t":1989.5,"v":18},{"t":1989.55,"v":6},{"t":1989.6,"v":15},{"t":1989.65,"v":5},{"t":1989.69,"v":12},{"t":1989.72,"v":22},
{"t":1989.75,"v":25},{"t":1989.78,"v":95},{"t":1989.8,"v":40},{"t":1989.82,"v":165},{"t":1989.84,"v":30},{"t":1989.86,"v":220},{"t":1989.88,"v":70},{"t":1989.9,"v":130},{"t":1989.92,"v":290},{"t":1989.94,"v":40},{"t":1989.96,"v":185},{"t":1989.98,"v":100},{"t":1990,"v":255},{"t":1990.02,"v":50},{"t":1990.04,"v":175},{"t":1990.06,"v":340},{"t":1990.08,"v":75},{"t":1990.1,"v":140},{"t":1990.12,"v":30},{"t":1990.14,"v":215},{"t":1990.16,"v":60},{"t":1990.19,"v":110},{"t":1990.22,"v":40},{"t":1990.26,"v":20},
{"t":1989.8,"v":60},{"t":1989.86,"v":100},{"t":1989.9,"v":45},{"t":1989.94,"v":120},{"t":1989.98,"v":80},{"t":1990.02,"v":140},{"t":1990.04,"v":95},{"t":1990.08,"v":110},{"t":1990.12,"v":70},{"t":1990.17,"v":85},
{"t":1989.83,"v":282},{"t":1989.9,"v":470},{"t":1989.96,"v":893},{"t":1989.98,"v":966},{"t":1989.99,"v":787},{"t":1990,"v":415},
{"t":1991.06,"v":40},{"t":1991.07,"v":60},{"t":1991.08,"v":270},{"t":1991.09,"v":170},{"t":1991.1,"v":90},{"t":1991.11,"v":35},{"t":1991.13,"v":120},{"t":1991.15,"v":200},{"t":1991.16,"v":140},{"t":1991.18,"v":50},{"t":1991.2,"v":95},{"t":1991.22,"v":70},{"t":1991.23,"v":30},{"t":1991.26,"v":55},
{"t":1991.2,"v":759},{"t":1991.19,"v":577},{"t":1991.21,"v":504},{"t":1991.2,"v":268},
{"t":1991.3,"v":30},{"t":1991.35,"v":10},{"t":1991.4,"v":25},{"t":1991.45,"v":8},{"t":1991.5,"v":18},{"t":1991.55,"v":6},{"t":1991.6,"v":15},{"t":1991.65,"v":5},{"t":1991.69,"v":12},{"t":1991.72,"v":22},
{"t":1991.75,"v":20},{"t":1991.78,"v":65},{"t":1991.8,"v":30},{"t":1991.82,"v":115},{"t":1991.84,"v":20},{"t":1991.86,"v":155},{"t":1991.88,"v":50},{"t":1991.9,"v":90},{"t":1991.92,"v":205},{"t":1991.94,"v":30},{"t":1991.96,"v":130},{"t":1991.98,"v":70},{"t":1992,"v":180},{"t":1992.02,"v":35},{"t":1992.04,"v":120},{"t":1992.06,"v":240},{"t":1992.08,"v":55},{"t":1992.1,"v":100},{"t":1992.12,"v":20},{"t":1992.14,"v":150},{"t":1992.16,"v":40},{"t":1992.19,"v":75},{"t":1992.22,"v":30},{"t":1992.26,"v":15},
{"t":1991.8,"v":60},{"t":1991.86,"v":100},{"t":1991.9,"v":45},{"t":1991.94,"v":120},{"t":1991.98,"v":80},{"t":1992.02,"v":140},{"t":1992.04,"v":95},{"t":1992.08,"v":110},{"t":1992.12,"v":70},{"t":1992.17,"v":85},
{"t":1991.9,"v":424},{"t":1991.85,"v":250},{"t":1992.06,"v":504},{"t":1992.07,"v":457},{"t":1992.08,"v":670},
{"t":1992.3,"v":30},{"t":1992.35,"v":10},{"t":1992.4,"v":25},{"t":1992.45,"v":8},{"t":1992.5,"v":18},{"t":1992.55,"v":6},{"t":1992.6,"v":15},{"t":1992.65,"v":5},{"t":1992.69,"v":12},{"t":1992.72,"v":22},
{"t":1992.76,"v":45},{"t":1992.79,"v":90},{"t":1992.81,"v":25},{"t":1992.83,"v":170},{"t":1992.85,"v":70},{"t":1992.87,"v":245},{"t":1992.89,"v":40},{"t":1992.91,"v":325},{"t":1992.93,"v":115},{"t":1992.95,"v":210},{"t":1992.97,"v":415},{"t":1992.99,"v":60},{"t":1993.01,"v":275},{"t":1993.03,"v":145},{"t":1993.05,"v":350},{"t":1993.07,"v":80},{"t":1993.09,"v":220},{"t":1993.11,"v":45},{"t":1993.13,"v":155},{"t":1993.15,"v":260},{"t":1993.18,"v":65},{"t":1993.2,"v":125},{"t":1993.23,"v":40},{"t":1993.26,"v":70},
{"t":1992.8,"v":60},{"t":1992.86,"v":100},{"t":1992.9,"v":45},{"t":1992.94,"v":120},{"t":1992.98,"v":80},{"t":1993.02,"v":140},{"t":1993.04,"v":95},{"t":1993.08,"v":110},{"t":1993.12,"v":70},{"t":1993.17,"v":85},
{"t":1992.81,"v":483},{"t":1992.88,"v":562},{"t":1992.92,"v":674},{"t":1992.97,"v":889},{"t":1993.01,"v":816},{"t":1993.06,"v":889},{"t":1993.09,"v":415},{"t":1992.95,"v":380},{"t":1993.03,"v":350},{"t":1993.12,"v":300},
{"t":1993.3,"v":30},{"t":1993.35,"v":10},{"t":1993.4,"v":25},{"t":1993.45,"v":8},{"t":1993.5,"v":18},{"t":1993.55,"v":6},{"t":1993.6,"v":15},{"t":1993.65,"v":5},{"t":1993.69,"v":12},{"t":1993.72,"v":22},
{"t":1993.75,"v":25},{"t":1993.78,"v":95},{"t":1993.8,"v":40},{"t":1993.82,"v":165},{"t":1993.84,"v":30},{"t":1993.86,"v":220},{"t":1993.88,"v":70},{"t":1993.9,"v":130},{"t":1993.92,"v":290},{"t":1993.94,"v":40},{"t":1993.96,"v":185},{"t":1993.98,"v":100},{"t":1994,"v":255},{"t":1994.02,"v":50},{"t":1994.04,"v":175},{"t":1994.06,"v":340},{"t":1994.08,"v":75},{"t":1994.1,"v":140},{"t":1994.12,"v":30},{"t":1994.14,"v":215},{"t":1994.16,"v":60},{"t":1994.19,"v":110},{"t":1994.22,"v":40},{"t":1994.26,"v":20},
{"t":1993.8,"v":60},{"t":1993.86,"v":100},{"t":1993.9,"v":45},{"t":1993.94,"v":120},{"t":1993.98,"v":80},{"t":1994.02,"v":140},{"t":1994.04,"v":95},{"t":1994.08,"v":110},{"t":1994.12,"v":70},{"t":1994.17,"v":85},
{"t":1993.94,"v":608},{"t":1993.95,"v":455},{"t":1993.96,"v":583},{"t":1993.99,"v":910},{"t":1994,"v":390},{"t":1994.01,"v":736},{"t":1994.15,"v":317},
{"t":1994.3,"v":30},{"t":1994.35,"v":10},{"t":1994.4,"v":25},{"t":1994.45,"v":8},{"t":1994.5,"v":18},{"t":1994.55,"v":6},{"t":1994.6,"v":15},{"t":1994.65,"v":5},{"t":1994.69,"v":12},{"t":1994.72,"v":22},
{"t":1994.76,"v":35},{"t":1994.79,"v":70},{"t":1994.81,"v":20},{"t":1994.83,"v":130},{"t":1994.85,"v":55},{"t":1994.87,"v":190},{"t":1994.89,"v":30},{"t":1994.91,"v":250},{"t":1994.93,"v":90},{"t":1994.95,"v":160},{"t":1994.97,"v":320},{"t":1994.99,"v":45},{"t":1995.01,"v":210},{"t":1995.03,"v":110},{"t":1995.05,"v":270},{"t":1995.07,"v":60},{"t":1995.09,"v":170},{"t":1995.11,"v":35},{"t":1995.13,"v":120},{"t":1995.15,"v":200},{"t":1995.18,"v":50},{"t":1995.2,"v":95},{"t":1995.23,"v":30},{"t":1995.26,"v":55},
{"t":1994.8,"v":60},{"t":1994.86,"v":100},{"t":1994.9,"v":45},{"t":1994.94,"v":120},{"t":1994.98,"v":80},{"t":1995.02,"v":140},{"t":1995.04,"v":95},{"t":1995.08,"v":110},{"t":1995.12,"v":70},{"t":1995.17,"v":85},
{"t":1994.87,"v":299},{"t":1994.89,"v":353},{"t":1994.9,"v":1326},{"t":1994.94,"v":567},{"t":1995.07,"v":458},{"t":1995.1,"v":281},{"t":1995.17,"v":1293},{"t":1995.22,"v":578},
{"t":1995.3,"v":30},{"t":1995.35,"v":10},{"t":1995.4,"v":25},{"t":1995.45,"v":8},{"t":1995.5,"v":18},{"t":1995.55,"v":6},{"t":1995.6,"v":15},{"t":1995.65,"v":5},{"t":1995.69,"v":12},{"t":1995.72,"v":22},
{"t":1995.75,"v":25},{"t":1995.78,"v":95},{"t":1995.8,"v":40},{"t":1995.82,"v":165},{"t":1995.84,"v":30},{"t":1995.86,"v":220},{"t":1995.88,"v":70},{"t":1995.9,"v":130},{"t":1995.92,"v":290},{"t":1995.94,"v":40},{"t":1995.96,"v":185},{"t":1995.98,"v":100},{"t":1996,"v":255},{"t":1996.02,"v":50},{"t":1996.04,"v":175},{"t":1996.06,"v":340},{"t":1996.08,"v":75},{"t":1996.1,"v":140},{"t":1996.12,"v":30},{"t":1996.14,"v":215},{"t":1996.16,"v":60},{"t":1996.19,"v":110},{"t":1996.22,"v":40},{"t":1996.26,"v":20},
{"t":1995.8,"v":60},{"t":1995.86,"v":100},{"t":1995.9,"v":45},{"t":1995.94,"v":120},{"t":1995.98,"v":80},{"t":1996.02,"v":140},{"t":1996.04,"v":95},{"t":1996.08,"v":110},{"t":1996.12,"v":70},{"t":1996.17,"v":85},
{"t":1995.93,"v":408},{"t":1995.96,"v":1037},{"t":1995.97,"v":900},{"t":1995.95,"v":372},{"t":1995.98,"v":560},{"t":1996.1,"v":160},{"t":1996.17,"v":336},
{"t":1996.3,"v":30},{"t":1996.35,"v":10},{"t":1996.4,"v":25},{"t":1996.45,"v":8},{"t":1996.5,"v":18},{"t":1996.55,"v":6},{"t":1996.6,"v":15},{"t":1996.65,"v":5},{"t":1996.69,"v":12},{"t":1996.72,"v":22},
{"t":1996.76,"v":35},{"t":1996.79,"v":70},{"t":1996.81,"v":20},{"t":1996.83,"v":130},{"t":1996.85,"v":55},{"t":1996.87,"v":190},{"t":1996.89,"v":30},{"t":1996.91,"v":250},{"t":1996.93,"v":90},{"t":1996.95,"v":160},{"t":1996.97,"v":320},{"t":1996.99,"v":45},{"t":1997.01,"v":210},{"t":1997.03,"v":110},{"t":1997.05,"v":270},{"t":1997.07,"v":60},{"t":1997.09,"v":170},{"t":1997.11,"v":35},{"t":1997.13,"v":120},{"t":1997.15,"v":200},{"t":1997.18,"v":50},{"t":1997.2,"v":95},{"t":1997.23,"v":30},{"t":1997.26,"v":55},
{"t":1996.8,"v":60},{"t":1996.86,"v":100},{"t":1996.9,"v":45},{"t":1996.94,"v":120},{"t":1996.98,"v":80},{"t":1997.02,"v":140},{"t":1997.04,"v":95},{"t":1997.08,"v":110},{"t":1997.12,"v":70},{"t":1997.17,"v":85},
{"t":1996.91,"v":906},{"t":1996.93,"v":1428},{"t":1996.94,"v":568},{"t":1996.92,"v":372},{"t":1996.99,"v":702},{"t":1997.02,"v":972},{"t":1997.14,"v":1282},{"t":1997.17,"v":540},
{"t":1997.3,"v":30},{"t":1997.35,"v":10},{"t":1997.4,"v":25},{"t":1997.45,"v":8},{"t":1997.5,"v":18},{"t":1997.55,"v":6},{"t":1997.6,"v":15},{"t":1997.65,"v":5},{"t":1997.69,"v":12},{"t":1997.72,"v":22},
{"t":1997.75,"v":25},{"t":1997.78,"v":95},{"t":1997.8,"v":40},{"t":1997.82,"v":165},{"t":1997.84,"v":30},{"t":1997.86,"v":220},{"t":1997.88,"v":70},{"t":1997.9,"v":130},{"t":1997.92,"v":290},{"t":1997.94,"v":40},{"t":1997.96,"v":185},{"t":1997.98,"v":100},{"t":1998,"v":255},{"t":1998.02,"v":50},{"t":1998.04,"v":175},{"t":1998.06,"v":340},{"t":1998.08,"v":75},{"t":1998.1,"v":140},{"t":1998.12,"v":30},{"t":1998.14,"v":215},{"t":1998.16,"v":60},{"t":1998.19,"v":110},{"t":1998.22,"v":40},{"t":1998.26,"v":20},
{"t":1997.8,"v":60},{"t":1997.86,"v":100},{"t":1997.9,"v":45},{"t":1997.94,"v":120},{"t":1997.98,"v":80},{"t":1998.02,"v":140},{"t":1998.04,"v":95},{"t":1998.08,"v":110},{"t":1998.12,"v":70},{"t":1998.17,"v":85},
{"t":1997.86,"v":336},{"t":1997.89,"v":972},{"t":1997.9,"v":470},{"t":1997.93,"v":270},{"t":1997.96,"v":616},{"t":1998.1,"v":707},{"t":1998.11,"v":343},{"t":1998.32,"v":100},
{"t":1998.3,"v":30},{"t":1998.35,"v":10},{"t":1998.4,"v":25},{"t":1998.45,"v":8},{"t":1998.5,"v":18},{"t":1998.55,"v":6},{"t":1998.6,"v":15},{"t":1998.65,"v":5},{"t":1998.69,"v":12},{"t":1998.72,"v":22},
{"t":1998.76,"v":35},{"t":1998.79,"v":70},{"t":1998.81,"v":20},{"t":1998.83,"v":130},{"t":1998.85,"v":55},{"t":1998.87,"v":190},{"t":1998.89,"v":30},{"t":1998.91,"v":250},{"t":1998.93,"v":90},{"t":1998.95,"v":160},{"t":1998.97,"v":320},{"t":1998.99,"v":45},{"t":1999.01,"v":210},{"t":1999.03,"v":110},{"t":1999.05,"v":270},{"t":1999.07,"v":60},{"t":1999.09,"v":170},{"t":1999.11,"v":35},{"t":1999.13,"v":120},{"t":1999.15,"v":200},{"t":1999.18,"v":50},{"t":1999.2,"v":95},{"t":1999.23,"v":30},{"t":1999.26,"v":55},
{"t":1998.8,"v":60},{"t":1998.86,"v":100},{"t":1998.9,"v":45},{"t":1998.94,"v":120},{"t":1998.98,"v":80},{"t":1999.02,"v":140},{"t":1999.04,"v":95},{"t":1999.08,"v":110},{"t":1999.12,"v":70},{"t":1999.17,"v":85},
{"t":1998.86,"v":525},{"t":1998.87,"v":372},{"t":1998.89,"v":500},{"t":1998.94,"v":620},{"t":1998.96,"v":674},{"t":1998.97,"v":444},
{"t":1999.3,"v":30},{"t":1999.35,"v":10},{"t":1999.4,"v":25},{"t":1999.45,"v":8},{"t":1999.5,"v":18},{"t":1999.55,"v":6},{"t":1999.6,"v":15},{"t":1999.65,"v":5},{"t":1999.69,"v":12},{"t":1999.72,"v":22},
{"t":1999.75,"v":20},{"t":1999.78,"v":65},{"t":1999.8,"v":30},{"t":1999.82,"v":115},{"t":1999.84,"v":20},{"t":1999.86,"v":155},{"t":1999.88,"v":50},{"t":1999.9,"v":90},{"t":1999.92,"v":205},{"t":1999.94,"v":30},{"t":1999.96,"v":130},{"t":1999.98,"v":70},{"t":2000,"v":180},{"t":2000.02,"v":35},{"t":2000.04,"v":120},{"t":2000.06,"v":240},{"t":2000.08,"v":55},{"t":2000.1,"v":100},{"t":2000.12,"v":20},{"t":2000.14,"v":150},{"t":2000.16,"v":40},{"t":2000.19,"v":75},{"t":2000.22,"v":30},{"t":2000.26,"v":15},
{"t":1999.8,"v":60},{"t":1999.86,"v":100},{"t":1999.9,"v":45},{"t":1999.94,"v":120},{"t":1999.98,"v":80},{"t":2000.02,"v":140},{"t":2000.04,"v":95},{"t":2000.08,"v":110},{"t":2000.12,"v":70},{"t":2000.17,"v":85},
{"t":1999.91,"v":500},{"t":1999.93,"v":355},{"t":1999.94,"v":281},{"t":1999.96,"v":983},{"t":2000.07,"v":455},{"t":2000.16,"v":419},
{"t":2000.3,"v":30},{"t":2000.35,"v":10},{"t":2000.4,"v":25},{"t":2000.45,"v":8},{"t":2000.5,"v":18},{"t":2000.55,"v":6},{"t":2000.6,"v":15},{"t":2000.65,"v":5},{"t":2000.69,"v":12},{"t":2000.72,"v":22},
{"t":2000.76,"v":25},{"t":2000.79,"v":50},{"t":2000.81,"v":15},{"t":2000.83,"v":90},{"t":2000.85,"v":40},{"t":2000.87,"v":135},{"t":2000.89,"v":20},{"t":2000.91,"v":175},{"t":2000.93,"v":65},{"t":2000.95,"v":110},{"t":2000.97,"v":225},{"t":2000.99,"v":30},{"t":2001.01,"v":145},{"t":2001.03,"v":75},{"t":2001.05,"v":190},{"t":2001.07,"v":40},{"t":2001.09,"v":120},{"t":2001.11,"v":25},{"t":2001.13,"v":85},{"t":2001.15,"v":140},{"t":2001.18,"v":35},{"t":2001.2,"v":65},{"t":2001.23,"v":20},{"t":2001.26,"v":40},
{"t":2000.8,"v":60},{"t":2000.86,"v":100},{"t":2000.9,"v":45},{"t":2000.94,"v":120},{"t":2000.98,"v":80},{"t":2001.02,"v":140},{"t":2001.04,"v":95},{"t":2001.08,"v":110},{"t":2001.12,"v":70},{"t":2001.17,"v":85},
{"t":2000.74,"v":656},{"t":2000.88,"v":503},{"t":2000.91,"v":444},{"t":2000.92,"v":263},
{"t":2001.3,"v":30},{"t":2001.35,"v":10},{"t":2001.4,"v":25},{"t":2001.45,"v":8},{"t":2001.5,"v":18},{"t":2001.55,"v":6},{"t":2001.6,"v":15},{"t":2001.65,"v":5},{"t":2001.69,"v":12},{"t":2001.72,"v":22},
{"t":2001.75,"v":25},{"t":2001.78,"v":95},{"t":2001.8,"v":40},{"t":2001.82,"v":165},{"t":2001.84,"v":30},{"t":2001.86,"v":220},{"t":2001.88,"v":70},{"t":2001.9,"v":130},{"t":2001.92,"v":290},{"t":2001.94,"v":40},{"t":2001.96,"v":185},{"t":2001.98,"v":100},{"t":2002,"v":255},{"t":2002.02,"v":50},{"t":2002.04,"v":175},{"t":2002.06,"v":340},{"t":2002.08,"v":75},{"t":2002.1,"v":140},{"t":2002.12,"v":30},{"t":2002.14,"v":215},{"t":2002.16,"v":60},{"t":2002.19,"v":110},{"t":2002.22,"v":40},{"t":2002.26,"v":20},
{"t":2001.8,"v":60},{"t":2001.86,"v":100},{"t":2001.9,"v":45},{"t":2001.94,"v":120},{"t":2001.98,"v":80},{"t":2002.02,"v":140},{"t":2002.04,"v":95},{"t":2002.08,"v":110},{"t":2002.12,"v":70},{"t":2002.17,"v":85},
{"t":2001.81,"v":837},{"t":2001.83,"v":645},{"t":2001.88,"v":408},{"t":2001.95,"v":645},{"t":2002.06,"v":830},{"t":2002.09,"v":554},{"t":2002.14,"v":445},{"t":2002.19,"v":372},
{"t":2002.3,"v":30},{"t":2002.35,"v":10},{"t":2002.4,"v":25},{"t":2002.45,"v":8},{"t":2002.5,"v":18},{"t":2002.55,"v":6},{"t":2002.6,"v":15},{"t":2002.65,"v":5},{"t":2002.69,"v":12},{"t":2002.72,"v":22},
{"t":2002.76,"v":35},{"t":2002.79,"v":70},{"t":2002.81,"v":20},{"t":2002.83,"v":130},{"t":2002.85,"v":55},{"t":2002.87,"v":190},{"t":2002.89,"v":30},{"t":2002.91,"v":250},{"t":2002.93,"v":90},{"t":2002.95,"v":160},{"t":2002.97,"v":320},{"t":2002.99,"v":45},{"t":2003.01,"v":210},{"t":2003.03,"v":110},{"t":2003.05,"v":270},{"t":2003.07,"v":60},{"t":2003.09,"v":170},{"t":2003.11,"v":35},{"t":2003.13,"v":120},{"t":2003.15,"v":200},{"t":2003.18,"v":50},{"t":2003.2,"v":95},{"t":2003.23,"v":30},{"t":2003.26,"v":55},
{"t":2002.8,"v":60},{"t":2002.86,"v":100},{"t":2002.9,"v":45},{"t":2002.94,"v":120},{"t":2002.98,"v":80},{"t":2003.02,"v":140},{"t":2003.04,"v":95},{"t":2003.08,"v":110},{"t":2003.12,"v":70},{"t":2003.17,"v":85},
{"t":2002.81,"v":317},{"t":2002.86,"v":444},{"t":2002.9,"v":535},{"t":2002.93,"v":674},{"t":2002.95,"v":408},{"t":2003.18,"v":998},{"t":2003.21,"v":485},{"t":2003.27,"v":190},
{"t":2003.3,"v":30},{"t":2003.35,"v":10},{"t":2003.4,"v":25},{"t":2003.45,"v":8},{"t":2003.5,"v":18},{"t":2003.55,"v":6},{"t":2003.6,"v":15},{"t":2003.65,"v":5},{"t":2003.69,"v":12},{"t":2003.72,"v":22},
{"t":2003.75,"v":35},{"t":2003.78,"v":125},{"t":2003.8,"v":50},{"t":2003.82,"v":215},{"t":2003.84,"v":40},{"t":2003.86,"v":285},{"t":2003.88,"v":90},{"t":2003.9,"v":170},{"t":2003.92,"v":375},{"t":2003.94,"v":50},{"t":2003.96,"v":240},{"t":2003.98,"v":130},{"t":2004,"v":330},{"t":2004.02,"v":65},{"t":2004.04,"v":230},{"t":2004.06,"v":440},{"t":2004.08,"v":100},{"t":2004.1,"v":180},{"t":2004.12,"v":40},{"t":2004.14,"v":280},{"t":2004.16,"v":80},{"t":2004.19,"v":145},{"t":2004.22,"v":50},{"t":2004.26,"v":25},
{"t":2003.8,"v":60},{"t":2003.86,"v":100},{"t":2003.9,"v":45},{"t":2003.94,"v":120},{"t":2003.98,"v":80},{"t":2004.02,"v":140},{"t":2004.04,"v":95},{"t":2004.08,"v":110},{"t":2004.12,"v":70},{"t":2004.17,"v":85},
{"t":2003.87,"v":470},{"t":2003.92,"v":572},{"t":2004,"v":674},{"t":2004.04,"v":1446},{"t":2004.09,"v":881},{"t":2004.1,"v":845},{"t":2004.17,"v":470},{"t":2004.28,"v":408},
{"t":2004.3,"v":30},{"t":2004.35,"v":10},{"t":2004.4,"v":25},{"t":2004.45,"v":8},{"t":2004.5,"v":18},{"t":2004.55,"v":6},{"t":2004.6,"v":15},{"t":2004.65,"v":5},{"t":2004.69,"v":12},{"t":2004.72,"v":22},
{"t":2004.76,"v":45},{"t":2004.79,"v":90},{"t":2004.81,"v":25},{"t":2004.83,"v":170},{"t":2004.85,"v":70},{"t":2004.87,"v":245},{"t":2004.89,"v":40},{"t":2004.91,"v":325},{"t":2004.93,"v":115},{"t":2004.95,"v":210},{"t":2004.97,"v":415},{"t":2004.99,"v":60},{"t":2005.01,"v":275},{"t":2005.03,"v":145},{"t":2005.05,"v":350},{"t":2005.07,"v":80},{"t":2005.09,"v":220},{"t":2005.11,"v":45},{"t":2005.13,"v":155},{"t":2005.15,"v":260},{"t":2005.18,"v":65},{"t":2005.2,"v":125},{"t":2005.23,"v":40},{"t":2005.26,"v":70},
{"t":2004.8,"v":60},{"t":2004.86,"v":100},{"t":2004.9,"v":45},{"t":2004.94,"v":120},{"t":2004.98,"v":80},{"t":2005.02,"v":140},{"t":2005.04,"v":95},{"t":2005.08,"v":110},{"t":2005.12,"v":70},{"t":2005.17,"v":85},
{"t":2004.9,"v":627},{"t":2004.94,"v":483},{"t":2004.96,"v":1056},{"t":2004.97,"v":1428},{"t":2004.98,"v":765},{"t":2004.99,"v":845},{"t":2005,"v":627},{"t":2005.01,"v":1599},{"t":2005.03,"v":681},{"t":2005.06,"v":1056},{"t":2005.07,"v":936},{"t":2005.08,"v":300},{"t":2005.13,"v":609},{"t":2005.17,"v":554},{"t":2005.02,"v":500},{"t":2005.04,"v":420},
{"t":2005.3,"v":30},{"t":2005.35,"v":10},{"t":2005.4,"v":25},{"t":2005.45,"v":8},{"t":2005.5,"v":18},{"t":2005.55,"v":6},{"t":2005.6,"v":15},{"t":2005.65,"v":5},{"t":2005.69,"v":12},{"t":2005.72,"v":22},
{"t":2005.75,"v":35},{"t":2005.78,"v":125},{"t":2005.8,"v":50},{"t":2005.82,"v":215},{"t":2005.84,"v":40},{"t":2005.86,"v":285},{"t":2005.88,"v":90},{"t":2005.9,"v":170},{"t":2005.92,"v":375},{"t":2005.94,"v":50},{"t":2005.96,"v":240},{"t":2005.98,"v":130},{"t":2006,"v":330},{"t":2006.02,"v":65},{"t":2006.04,"v":230},{"t":2006.06,"v":440},{"t":2006.08,"v":100},{"t":2006.1,"v":180},{"t":2006.12,"v":40},{"t":2006.14,"v":280},{"t":2006.16,"v":80},{"t":2006.19,"v":145},{"t":2006.22,"v":50},{"t":2006.26,"v":25},
{"t":2005.8,"v":60},{"t":2005.86,"v":100},{"t":2005.9,"v":45},{"t":2005.94,"v":120},{"t":2005.98,"v":80},{"t":2006.02,"v":140},{"t":2006.04,"v":95},{"t":2006.08,"v":110},{"t":2006.12,"v":70},{"t":2006.17,"v":85},
{"t":2005.83,"v":355},{"t":2005.85,"v":979},{"t":2005.87,"v":633},{"t":2005.88,"v":535},{"t":2005.92,"v":463},{"t":2005.96,"v":1263},{"t":2006.17,"v":1566},{"t":2006.18,"v":627},{"t":2006.19,"v":463},{"t":2006.2,"v":372},
{"t":2006.3,"v":30},{"t":2006.35,"v":10},{"t":2006.4,"v":25},{"t":2006.45,"v":8},{"t":2006.5,"v":18},{"t":2006.55,"v":6},{"t":2006.6,"v":15},{"t":2006.65,"v":5},{"t":2006.69,"v":12},{"t":2006.72,"v":22},
{"t":2006.76,"v":35},{"t":2006.79,"v":70},{"t":2006.81,"v":20},{"t":2006.83,"v":130},{"t":2006.85,"v":55},{"t":2006.87,"v":190},{"t":2006.89,"v":30},{"t":2006.91,"v":250},{"t":2006.93,"v":90},{"t":2006.95,"v":160},{"t":2006.97,"v":320},{"t":2006.99,"v":45},{"t":2007.01,"v":210},{"t":2007.03,"v":110},{"t":2007.05,"v":270},{"t":2007.07,"v":60},{"t":2007.09,"v":170},{"t":2007.11,"v":35},{"t":2007.13,"v":120},{"t":2007.15,"v":200},{"t":2007.18,"v":50},{"t":2007.2,"v":95},{"t":2007.23,"v":30},{"t":2007.26,"v":55},
{"t":2006.8,"v":60},{"t":2006.86,"v":100},{"t":2006.9,"v":45},{"t":2006.94,"v":120},{"t":2006.98,"v":80},{"t":2007.02,"v":140},{"t":2007.04,"v":95},{"t":2007.08,"v":110},{"t":2007.12,"v":70},{"t":2007.17,"v":85},
{"t":2006.94,"v":427},{"t":2006.99,"v":554},{"t":2007.01,"v":1683},{"t":2007.03,"v":700},{"t":2007.08,"v":663},{"t":2007.11,"v":300},{"t":2007.13,"v":1263},{"t":2007.05,"v":420},
{"t":2007.3,"v":30},{"t":2007.35,"v":10},{"t":2007.4,"v":25},{"t":2007.45,"v":8},{"t":2007.5,"v":18},{"t":2007.55,"v":6},{"t":2007.6,"v":15},{"t":2007.65,"v":5},{"t":2007.69,"v":12},{"t":2007.72,"v":22},
{"t":2007.75,"v":25},{"t":2007.78,"v":95},{"t":2007.8,"v":40},{"t":2007.82,"v":165},{"t":2007.84,"v":30},{"t":2007.86,"v":220},{"t":2007.88,"v":70},{"t":2007.9,"v":130},{"t":2007.92,"v":290},{"t":2007.94,"v":40},{"t":2007.96,"v":185},{"t":2007.98,"v":100},{"t":2008,"v":255},{"t":2008.02,"v":50},{"t":2008.04,"v":175},{"t":2008.06,"v":340},{"t":2008.08,"v":75},{"t":2008.1,"v":140},{"t":2008.12,"v":30},{"t":2008.14,"v":215},{"t":2008.16,"v":60},{"t":2008.19,"v":110},{"t":2008.22,"v":40},{"t":2008.26,"v":20},
{"t":2007.8,"v":60},{"t":2007.86,"v":100},{"t":2007.9,"v":45},{"t":2007.94,"v":120},{"t":2007.98,"v":80},{"t":2008.02,"v":140},{"t":2008.04,"v":95},{"t":2008.08,"v":110},{"t":2008.12,"v":70},{"t":2008.17,"v":85},
{"t":2007.77,"v":299},{"t":2007.8,"v":681},{"t":2007.93,"v":772},{"t":2008.08,"v":427},{"t":2008.18,"v":827},{"t":2008.19,"v":372},
{"t":2008.3,"v":30},{"t":2008.35,"v":10},{"t":2008.4,"v":25},{"t":2008.45,"v":8},{"t":2008.5,"v":18},{"t":2008.55,"v":6},{"t":2008.6,"v":15},{"t":2008.65,"v":5},{"t":2008.69,"v":12},{"t":2008.72,"v":22},
{"t":2008.76,"v":45},{"t":2008.79,"v":90},{"t":2008.81,"v":25},{"t":2008.83,"v":170},{"t":2008.85,"v":70},{"t":2008.87,"v":245},{"t":2008.89,"v":40},{"t":2008.91,"v":325},{"t":2008.93,"v":115},{"t":2008.95,"v":210},{"t":2008.97,"v":415},{"t":2008.99,"v":60},{"t":2009.01,"v":275},{"t":2009.03,"v":145},{"t":2009.05,"v":350},{"t":2009.07,"v":80},{"t":2009.09,"v":220},{"t":2009.11,"v":45},{"t":2009.13,"v":155},{"t":2009.15,"v":260},{"t":2009.18,"v":65},{"t":2009.2,"v":125},{"t":2009.23,"v":40},{"t":2009.26,"v":70},
{"t":2008.8,"v":60},{"t":2008.86,"v":100},{"t":2008.9,"v":45},{"t":2008.94,"v":120},{"t":2008.98,"v":80},{"t":2009.02,"v":140},{"t":2009.04,"v":95},{"t":2009.08,"v":110},{"t":2009.12,"v":70},{"t":2009.17,"v":85},
{"t":2008.86,"v":837},{"t":2008.87,"v":427},{"t":2008.98,"v":725},{"t":2009.03,"v":481},{"t":2009.19,"v":463},{"t":2009.21,"v":899},{"t":2009.22,"v":845},
{"t":2009.3,"v":30},{"t":2009.35,"v":10},{"t":2009.4,"v":25},{"t":2009.45,"v":8},{"t":2009.5,"v":18},{"t":2009.55,"v":6},{"t":2009.6,"v":15},{"t":2009.65,"v":5},{"t":2009.69,"v":12},{"t":2009.72,"v":22},
{"t":2009.75,"v":25},{"t":2009.78,"v":95},{"t":2009.8,"v":40},{"t":2009.82,"v":165},{"t":2009.84,"v":30},{"t":2009.86,"v":220},{"t":2009.88,"v":70},{"t":2009.9,"v":130},{"t":2009.92,"v":290},{"t":2009.94,"v":40},{"t":2009.96,"v":185},{"t":2009.98,"v":100},{"t":2010,"v":255},{"t":2010.02,"v":50},{"t":2010.04,"v":175},{"t":2010.06,"v":340},{"t":2010.08,"v":75},{"t":2010.1,"v":140},{"t":2010.12,"v":30},{"t":2010.14,"v":215},{"t":2010.16,"v":60},{"t":2010.19,"v":110},{"t":2010.22,"v":40},{"t":2010.26,"v":20},
{"t":2009.8,"v":60},{"t":2009.86,"v":100},{"t":2009.9,"v":45},{"t":2009.94,"v":120},{"t":2009.98,"v":80},{"t":2010.02,"v":140},{"t":2010.04,"v":95},{"t":2010.08,"v":110},{"t":2010.12,"v":70},{"t":2010.17,"v":85},
{"t":2009.72,"v":598},{"t":2009.77,"v":980},{"t":2009.78,"v":554},{"t":2009.85,"v":1136},{"t":2009.91,"v":390},{"t":2009.94,"v":427},{"t":2010.14,"v":263},
{"t":2010.3,"v":30},{"t":2010.35,"v":10},{"t":2010.4,"v":25},{"t":2010.45,"v":8},{"t":2010.5,"v":18},{"t":2010.55,"v":6},{"t":2010.6,"v":15},{"t":2010.65,"v":5},{"t":2010.68,"v":12},
{"t":1978.14,"v":120},{"t":1978.19,"v":160},{"t":1978.24,"v":90},
{"t":1978.77,"v":150},{"t":1978.83,"v":80},{"t":1978.87,"v":260},{"t":1978.92,"v":200},{"t":1978.96,"v":60},{"t":1979,"v":170},{"t":1979.03,"v":230},{"t":1979.06,"v":130},{"t":1979.1,"v":260},{"t":1979.14,"v":120},{"t":1979.19,"v":160},{"t":1979.24,"v":90},
{"t":1979.77,"v":150},{"t":1979.83,"v":80},{"t":1979.87,"v":260},{"t":1979.92,"v":200},{"t":1979.96,"v":60},{"t":1980,"v":170},{"t":1980.03,"v":230},{"t":1980.06,"v":130},{"t":1980.1,"v":260},{"t":1980.14,"v":120},{"t":1980.19,"v":160},{"t":1980.24,"v":90},
{"t":1980.77,"v":150},{"t":1980.83,"v":80},{"t":1980.87,"v":260},{"t":1980.92,"v":200},{"t":1980.96,"v":60},{"t":1981,"v":170},{"t":1981.03,"v":230},{"t":1981.06,"v":130},{"t":1981.1,"v":260},{"t":1981.14,"v":120},{"t":1981.19,"v":160},{"t":1981.24,"v":90},
{"t":1981.77,"v":150},{"t":1981.83,"v":80},{"t":1981.87,"v":260},{"t":1981.92,"v":200},{"t":1981.96,"v":60},{"t":1982,"v":170},{"t":1982.03,"v":230},{"t":1982.06,"v":130},{"t":1982.1,"v":260},{"t":1982.14,"v":120},{"t":1982.19,"v":160},{"t":1982.24,"v":90},
{"t":1983.77,"v":150},{"t":1983.83,"v":80},{"t":1983.87,"v":260},{"t":1983.92,"v":200},{"t":1983.96,"v":60},{"t":1984,"v":170},{"t":1984.03,"v":230},{"t":1984.06,"v":130},{"t":1984.1,"v":260},{"t":1984.14,"v":120},{"t":1984.19,"v":160},{"t":1984.24,"v":90},
{"t":1984.77,"v":150},{"t":1984.83,"v":80},{"t":1984.87,"v":260},{"t":1984.92,"v":200},{"t":1984.96,"v":60},{"t":1985,"v":170},{"t":1985.03,"v":230},{"t":1985.06,"v":130},{"t":1985.1,"v":260},{"t":1985.14,"v":120},{"t":1985.19,"v":160},{"t":1985.24,"v":90},
{"t":1985.77,"v":150},{"t":1985.83,"v":80},{"t":1985.87,"v":260},{"t":1985.92,"v":200},{"t":1985.96,"v":60},{"t":1986,"v":170},{"t":1986.03,"v":230},{"t":1986.06,"v":130},{"t":1986.1,"v":260},{"t":1986.14,"v":120},{"t":1986.19,"v":160},{"t":1986.24,"v":90},
{"t":1986.77,"v":150},{"t":1986.83,"v":80},{"t":1986.87,"v":260},{"t":1986.92,"v":200},{"t":1986.96,"v":60},{"t":1987,"v":170},{"t":1987.03,"v":230},{"t":1987.06,"v":130},{"t":1987.1,"v":260},{"t":1987.14,"v":120},{"t":1987.19,"v":160},{"t":1987.24,"v":90},
{"t":1987.77,"v":150},{"t":1987.83,"v":80},{"t":1987.87,"v":260},{"t":1987.92,"v":200},{"t":1987.96,"v":60},{"t":1988,"v":170},{"t":1988.03,"v":230},{"t":1988.06,"v":130},{"t":1988.1,"v":260},{"t":1988.14,"v":120},{"t":1988.19,"v":160},{"t":1988.24,"v":90},
{"t":1988.77,"v":150},{"t":1988.83,"v":80},{"t":1988.87,"v":260},{"t":1988.92,"v":200},{"t":1988.96,"v":60},{"t":1989,"v":170},{"t":1989.03,"v":230},{"t":1989.06,"v":130},{"t":1989.1,"v":260},{"t":1989.14,"v":120},{"t":1989.19,"v":160},{"t":1989.24,"v":90},
{"t":1989.77,"v":150},{"t":1989.83,"v":80},{"t":1989.87,"v":260},{"t":1989.92,"v":200},{"t":1989.96,"v":60},{"t":1990,"v":170},{"t":1990.03,"v":230},{"t":1990.06,"v":130},{"t":1990.1,"v":260},{"t":1990.14,"v":120},{"t":1990.19,"v":160},{"t":1990.24,"v":90},
{"t":1991.1,"v":260},{"t":1991.14,"v":120},{"t":1991.19,"v":160},{"t":1991.24,"v":90},
{"t":1991.77,"v":150},{"t":1991.83,"v":80},{"t":1991.87,"v":260},{"t":1991.92,"v":200},{"t":1991.96,"v":60},{"t":1992,"v":170},{"t":1992.03,"v":230},{"t":1992.06,"v":130},{"t":1992.1,"v":260},{"t":1992.14,"v":120},{"t":1992.19,"v":160},{"t":1992.24,"v":90},
{"t":1992.77,"v":150},{"t":1992.83,"v":80},{"t":1992.87,"v":260},{"t":1992.92,"v":200},{"t":1992.96,"v":60},{"t":1993,"v":170},{"t":1993.03,"v":230},{"t":1993.06,"v":130},{"t":1993.1,"v":260},{"t":1993.14,"v":120},{"t":1993.19,"v":160},{"t":1993.24,"v":90},
{"t":1993.77,"v":150},{"t":1993.83,"v":80},{"t":1993.87,"v":260},{"t":1993.92,"v":200},{"t":1993.96,"v":60},{"t":1994,"v":170},{"t":1994.03,"v":230},{"t":1994.06,"v":130},{"t":1994.1,"v":260},{"t":1994.14,"v":120},{"t":1994.19,"v":160},{"t":1994.24,"v":90},
{"t":1994.77,"v":150},{"t":1994.83,"v":80},{"t":1994.87,"v":260},{"t":1994.92,"v":200},{"t":1994.96,"v":60},{"t":1995,"v":170},{"t":1995.03,"v":230},{"t":1995.06,"v":130},{"t":1995.1,"v":260},{"t":1995.14,"v":120},{"t":1995.19,"v":160},{"t":1995.24,"v":90},
{"t":1995.77,"v":150},{"t":1995.83,"v":80},{"t":1995.87,"v":260},{"t":1995.92,"v":200},{"t":1995.96,"v":60},{"t":1996,"v":170},{"t":1996.03,"v":230},{"t":1996.06,"v":130},{"t":1996.1,"v":260},{"t":1996.14,"v":120},{"t":1996.19,"v":160},{"t":1996.24,"v":90},
{"t":1996.77,"v":150},{"t":1996.83,"v":80},{"t":1996.87,"v":260},{"t":1996.92,"v":200},{"t":1996.96,"v":60},{"t":1997,"v":170},{"t":1997.03,"v":230},{"t":1997.06,"v":130},{"t":1997.1,"v":260},{"t":1997.14,"v":120},{"t":1997.19,"v":160},{"t":1997.24,"v":90},
{"t":1997.77,"v":150},{"t":1997.83,"v":80},{"t":1997.87,"v":260},{"t":1997.92,"v":200},{"t":1997.96,"v":60},{"t":1998,"v":170},{"t":1998.03,"v":230},{"t":1998.06,"v":130},{"t":1998.1,"v":260},{"t":1998.14,"v":120},{"t":1998.19,"v":160},{"t":1998.24,"v":90},
{"t":1998.77,"v":150},{"t":1998.83,"v":80},{"t":1998.87,"v":260},{"t":1998.92,"v":200},{"t":1998.96,"v":60},{"t":1999,"v":170},{"t":1999.03,"v":230},{"t":1999.06,"v":130},{"t":1999.1,"v":260},{"t":1999.14,"v":120},{"t":1999.19,"v":160},{"t":1999.24,"v":90},
{"t":1999.77,"v":150},{"t":1999.83,"v":80},{"t":1999.87,"v":260},{"t":1999.92,"v":200},{"t":1999.96,"v":60},{"t":2000,"v":170},{"t":2000.03,"v":230},{"t":2000.06,"v":130},{"t":2000.1,"v":260},{"t":2000.14,"v":120},{"t":2000.19,"v":160},{"t":2000.24,"v":90},
{"t":2001.77,"v":150},{"t":2001.83,"v":80},{"t":2001.87,"v":260},{"t":2001.92,"v":200},{"t":2001.96,"v":60},{"t":2002,"v":170},{"t":2002.03,"v":230},{"t":2002.06,"v":130},{"t":2002.1,"v":260},{"t":2002.14,"v":120},{"t":2002.19,"v":160},{"t":2002.24,"v":90},
{"t":2002.77,"v":150},{"t":2002.83,"v":80},{"t":2002.87,"v":260},{"t":2002.92,"v":200},{"t":2002.96,"v":60},{"t":2003,"v":170},{"t":2003.03,"v":230},{"t":2003.06,"v":130},{"t":2003.1,"v":260},{"t":2003.14,"v":120},{"t":2003.19,"v":160},{"t":2003.24,"v":90},
{"t":2003.77,"v":150},{"t":2003.83,"v":80},{"t":2003.87,"v":260},{"t":2003.92,"v":200},{"t":2003.96,"v":60},{"t":2004,"v":170},{"t":2004.03,"v":230},{"t":2004.06,"v":130},{"t":2004.1,"v":260},{"t":2004.14,"v":120},{"t":2004.19,"v":160},{"t":2004.24,"v":90},
{"t":2004.77,"v":150},{"t":2004.83,"v":80},{"t":2004.87,"v":260},{"t":2004.92,"v":200},{"t":2004.96,"v":60},{"t":2005,"v":170},{"t":2005.03,"v":230},{"t":2005.06,"v":130},{"t":2005.1,"v":260},{"t":2005.14,"v":120},{"t":2005.19,"v":160},{"t":2005.24,"v":90},
{"t":2005.77,"v":150},{"t":2005.83,"v":80},{"t":2005.87,"v":260},{"t":2005.92,"v":200},{"t":2005.96,"v":60},{"t":2006,"v":170},{"t":2006.03,"v":230},{"t":2006.06,"v":130},{"t":2006.1,"v":260},{"t":2006.14,"v":120},{"t":2006.19,"v":160},{"t":2006.24,"v":90},
{"t":2006.77,"v":150},{"t":2006.83,"v":80},{"t":2006.87,"v":260},{"t":2006.92,"v":200},{"t":2006.96,"v":60},{"t":2007,"v":170},{"t":2007.03,"v":230},{"t":2007.06,"v":130},{"t":2007.1,"v":260},{"t":2007.14,"v":120},{"t":2007.19,"v":160},{"t":2007.24,"v":90},
{"t":2007.77,"v":150},{"t":2007.83,"v":80},{"t":2007.87,"v":260},{"t":2007.92,"v":200},{"t":2007.96,"v":60},{"t":2008,"v":170},{"t":2008.03,"v":230},{"t":2008.06,"v":130},{"t":2008.1,"v":260},{"t":2008.14,"v":120},{"t":2008.19,"v":160},{"t":2008.24,"v":90},
{"t":2008.77,"v":150},{"t":2008.83,"v":80},{"t":2008.87,"v":260},{"t":2008.92,"v":200},{"t":2008.96,"v":60},{"t":2009,"v":170},{"t":2009.03,"v":230},{"t":2009.06,"v":130},{"t":2009.1,"v":260},{"t":2009.14,"v":120},{"t":2009.19,"v":160},{"t":2009.24,"v":90},
{"t":2009.77,"v":150},{"t":2009.83,"v":80},{"t":2009.87,"v":260},{"t":2009.92,"v":200},{"t":2009.96,"v":60},{"t":2010,"v":170},{"t":2010.03,"v":230},{"t":2010.06,"v":130},{"t":2010.1,"v":260},{"t":2010.14,"v":120},{"t":2010.19,"v":160},{"t":2010.24,"v":90}]
},
"vconcat":[
{"title":"4 dados/ano","width":1169,"height":165,
"layer":[
{"data":{"name":"q"},"mark":{"type":"point","shape":"diamond","filled":true,"size":22,"color":"#000","opacity":1,"clip":true},
"encoding":{"x":{"field":"t","type":"quantitative","scale":{"domain":[1978.128,2010.69],"nice":false,"zero":false},"axis":{"orient":"bottom","title":null,"values":[1982.244,1987.721,1993.195,1998.671,2004.148,2009.622],"labelExpr":"datum.value < 1985 ? 'Mar-1982' : datum.value < 1990 ? 'Sep-1987' : datum.value < 1996 ? 'Mar-1993' : datum.value < 2001 ? 'Sep-1998' : datum.value < 2007 ? 'Feb-2004' : 'Aug-2009'","tickSize":-11,"labelPadding":17,"labelFlush":false}},
"y":{"field":"v","type":"quantitative","scale":{"domain":[0,1800],"nice":false},"axis":{"orient":"left","title":"CSS (mg/L)","format":"d","values":[0,500,1000,1500],"tickSize":-11,"labelPadding":16,"titlePadding":4,"labelFlush":false}}}},
{"data":{"values":[{"t":1980,"v":0}]},"mark":{"type":"point","opacity":0},
"encoding":{"x":{"field":"t","type":"quantitative","axis":{"orient":"top","title":null,"labels":false,"values":[1982.244,1987.721,1993.195,1998.671,2004.148,2009.622],"tickSize":-11}},
"y":{"field":"v","type":"quantitative","axis":{"orient":"right","title":null,"labels":false,"domain":false,"values":[0,500,1000,1500],"tickSize":-3}}}}
],
"resolve":{"axis":{"x":"independent","y":"independent"}}},
{"title":"12 dados/ano","width":1169,"height":165,
"layer":[
{"data":{"name":"m"},"mark":{"type":"point","shape":"diamond","filled":true,"size":22,"color":"#000","opacity":1,"clip":true},
"encoding":{"x":{"field":"t","type":"quantitative","scale":{"domain":[1978.128,2010.69],"nice":false,"zero":false},"axis":{"orient":"bottom","title":null,"values":[1982.244,1987.721,1993.195,1998.671,2004.148,2009.622],"labelExpr":"datum.value < 1985 ? 'Mar-1982' : datum.value < 1990 ? 'Sep-1987' : datum.value < 1996 ? 'Mar-1993' : datum.value < 2001 ? 'Sep-1998' : datum.value < 2007 ? 'Feb-2004' : 'Aug-2009'","tickSize":-11,"labelPadding":17,"labelFlush":false}},
"y":{"field":"v","type":"quantitative","scale":{"domain":[0,1800],"nice":false},"axis":{"orient":"left","title":"CSS (mg/L)","format":"d","values":[0,500,1000,1500],"tickSize":-11,"labelPadding":16,"titlePadding":4,"labelFlush":false}}}},
{"data":{"values":[{"t":1980,"v":0}]},"mark":{"type":"point","opacity":0},
"encoding":{"x":{"field":"t","type":"quantitative","axis":{"orient":"top","title":null,"labels":false,"values":[1982.244,1987.721,1993.195,1998.671,2004.148,2009.622],"tickSize":-11}},
"y":{"field":"v","type":"quantitative","axis":{"orient":"right","title":null,"labels":false,"domain":false,"values":[0,500,1000,1500],"tickSize":-3}}}}
],
"resolve":{"axis":{"x":"independent","y":"independent"}}},
{"title":"~150 dados/ano","width":1169,"height":165,
"layer":[
{"data":{"name":"d"},"mark":{"type":"point","shape":"diamond","filled":true,"size":22,"color":"#000","opacity":1,"clip":true},
"encoding":{"x":{"field":"t","type":"quantitative","scale":{"domain":[1978.128,2010.69],"nice":false,"zero":false},"axis":{"orient":"bottom","title":null,"values":[1982.244,1987.721,1993.195,1998.671,2004.148,2009.622],"labelExpr":"datum.value < 1985 ? 'Mar-1982' : datum.value < 1990 ? 'Sep-1987' : datum.value < 1996 ? 'Mar-1993' : datum.value < 2001 ? 'Sep-1998' : datum.value < 2007 ? 'Feb-2004' : 'Aug-2009'","tickSize":-11,"labelPadding":17,"labelFlush":false}},
"y":{"field":"v","type":"quantitative","scale":{"domain":[0,1800],"nice":false},"axis":{"orient":"left","title":"CSS (mg/L)","format":"d","values":[0,500,1000,1500],"tickSize":-11,"labelPadding":16,"titlePadding":4,"labelFlush":false}}}},
{"data":{"values":[{"t":1980,"v":0}]},"mark":{"type":"point","opacity":0},
"encoding":{"x":{"field":"t","type":"quantitative","axis":{"orient":"top","title":null,"labels":false,"values":[1982.244,1987.721,1993.195,1998.671,2004.148,2009.622],"tickSize":-11}},
"y":{"field":"v","type":"quantitative","axis":{"orient":"right","title":null,"labels":false,"domain":false,"values":[0,500,1000,1500],"tickSize":-3}}}}
],
"resolve":{"axis":{"x":"independent","y":"independent"}}}
]
}
